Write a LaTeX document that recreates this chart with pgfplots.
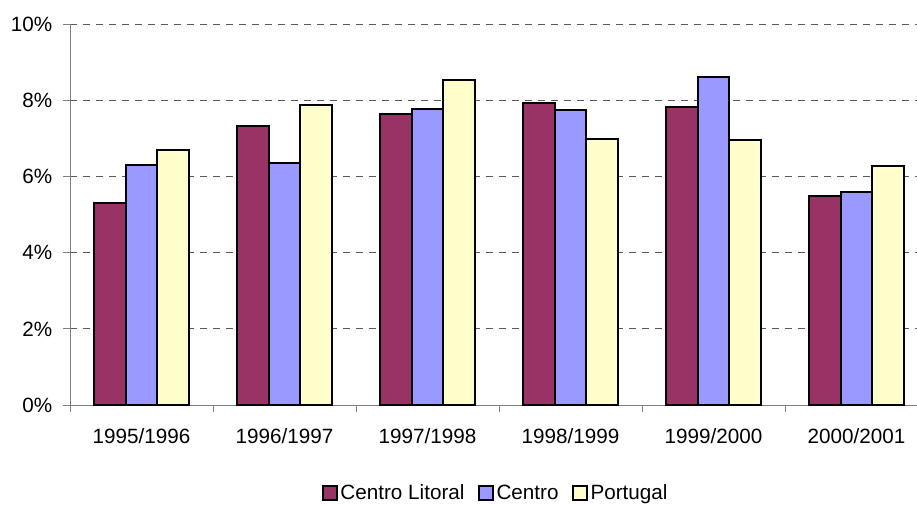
\documentclass[border=0pt]{standalone}
\usepackage{fontspec}
\setmainfont{Liberation Sans}
\usepackage{pgfplots}
\pgfplotsset{compat=1.18}
\definecolor{clitoral}{HTML}{993366}
\definecolor{centro}{HTML}{9999FF}
\definecolor{portugal}{HTML}{FFFFCC}

% values, in percent
\pgfplotstableread{
x cl    ce    pt
0 5.32  6.32  6.69
1 7.32  6.37  7.88
2 7.66  7.79  8.54
3 7.94  7.75  7.00
4 7.82  8.61  6.96
5 5.48  5.59  6.27
}\rates

\begin{document}
\begin{tikzpicture}
% 1 px of the reference = 0.75pt
\begin{axis}[
    at={(52.5pt,74.25pt)}, anchor=south west,
    scale only axis,
    width=643.5pt, height=285.4pt,
    ybar=0pt,
    bar width=0.221,
    xmin=-0.5, xmax=5.5,
    ymin=0, ymax=10,
    axis lines=left,
    axis line style={-, draw=black!50, line width=0.75pt},
    tick align=outside,
    xtick={0,...,5},
    xticklabels={1995/1996,1996/1997,1997/1998,1998/1999,1999/2000,2000/2001},
    major x tick style={draw=none},
    minor xtick={-0.5,0.5,...,5.5},
    minor x tick style={draw=black!50, line width=0.75pt},
    minor tick length=5.25pt,
    ytick={0,2,...,10},
    yticklabels={0\%,2\%,4\%,6\%,8\%,10\%},
    major y tick style={draw=black!50, line width=0.75pt},
    major tick length=5.25pt,
    ymajorgrids,
    major grid style={draw=black!65, line width=0.75pt, dash pattern=on 5.25pt off 4.5pt},
    ticklabel style={font=\fontsize{15.5}{18}\selectfont},
    xticklabel style={yshift=-8.5pt},
    yticklabel style={xshift=-4.5pt},
    every axis plot/.append style={draw=black, line width=1.5pt},
    legend style={at={(0.4965,-0.2313)}, anchor=center, draw=none, fill=none,
        legend columns=3, font=\fontsize{15.5}{18}\selectfont,
        /tikz/every even column/.append style={column sep=8pt},
        inner sep=0pt},
    legend image code/.code={\draw[#1, line width=1.4pt] (0pt,-5.3pt) rectangle (10.6pt,5.3pt);},
]
\addplot[fill=clitoral] table[x=x, y=cl] {\rates};
\addplot[fill=centro] table[x=x, y=ce] {\rates};
\addplot[fill=portugal] table[x=x, y=pt] {\rates};
\legend{Centro Litoral, Centro, Portugal}
\end{axis}
\pgfresetboundingbox
\path (0,0) rectangle (687.75pt,378pt);
\end{tikzpicture}
\end{document}
